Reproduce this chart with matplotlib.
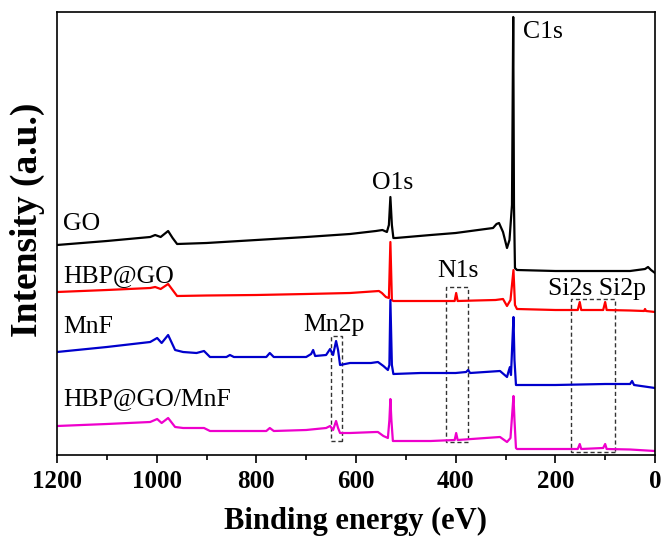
import matplotlib
matplotlib.use("Agg")
import matplotlib.pyplot as plt
from matplotlib.patches import Rectangle
from matplotlib.ticker import MultipleLocator, NullLocator

# ---- data: binding energy (eV) and intensity (a.u., offset already applied) ----
go_e = [1200, 1100, 1013, 1003, 992, 977, 968, 959, 900, 800, 700, 612, 560, 547, 538, 534,
        531, 528, 525, 520, 450, 400, 340, 325, 318, 313, 305, 297, 292, 287, 284.5, 283,
        281, 277, 200, 100, 50, 20, 14, 8, 0]
go_i = [210, 214, 218, 220, 218, 224, 217, 211, 212, 215, 218, 221, 224, 225, 223, 230,
        258, 230, 217, 217, 220, 222, 226, 227, 231, 232, 223, 207, 215, 250, 438, 250,
        187, 185, 184, 184, 184, 186, 188, 185, 182]

hbp_e = [1200, 1100, 1013, 1003, 992, 977, 968, 959, 900, 800, 700, 612, 554, 548, 540, 534,
         531, 528, 525, 450, 402, 399, 396, 360, 320, 305, 297, 290, 284, 281, 277, 200,
         155, 151, 148, 104, 100, 97, 50, 22, 20, 18, 0]
hbp_i = [163, 165, 167, 168, 166, 171, 165, 159, 159.5, 160, 161, 162, 164, 162, 158, 157,
         213, 155, 154, 154, 154, 162, 154, 154.5, 155, 156, 149, 155, 185, 150, 146, 145,
         145, 153, 145, 145, 153, 145, 144.5, 144, 146, 144, 143]

mnf_e = [1200, 1100, 1013, 999, 990, 977, 963, 947, 920, 905, 893, 860, 853, 845, 780, 773,
         765, 700, 690, 686, 682, 660, 652, 648, 646, 640, 636, 632, 612, 570, 556, 545,
         536, 533, 531, 528, 525, 470, 400, 379, 375, 371, 311, 297, 293, 291, 289, 286,
         284, 282, 279, 200, 100, 50, 46, 42, 0]
mnf_i = [103, 108, 113, 117, 112, 120, 105, 103, 102, 104, 98, 98, 100, 98, 98, 102,
         98, 98, 101, 105, 99, 100, 106, 102, 100, 114, 105, 90, 92, 92, 93, 89,
         85, 90, 155, 90, 81, 82, 82, 83, 85, 82, 84, 78, 85, 88, 80, 115,
         138, 95, 70, 70, 71, 71, 74, 70, 67]

mix_e = [1200, 1100, 1013, 999, 990, 977, 963, 947, 905, 893, 860, 780, 773, 765, 700, 660,
         652, 646, 640, 636, 632, 612, 560, 556, 545, 536, 533, 531, 529, 526, 450, 402,
         399, 396, 340, 311, 297, 290, 286, 284, 282, 279, 277, 155, 151, 148, 104, 100,
         97, 50, 0]
mix_i = [29, 31, 33, 36, 32, 37, 28, 27, 27, 24, 24, 24, 27, 24, 25, 27,
         29, 25, 34, 27, 22, 22, 23, 23, 19, 17, 35, 56, 35, 14, 14, 15,
         22, 15, 17, 18, 13, 17, 45, 59, 35, 7, 6, 6, 11, 6, 7, 11,
         6, 5.5, 4]

series = [("GO", go_e, go_i, "#000000"),
          ("HBP@GO", hbp_e, hbp_i, "#ff0000"),
          ("MnF", mnf_e, mnf_i, "#0000cc"),
          ("HBP@GO/MnF", mix_e, mix_i, "#ee00cc")]

# sample labels (x in eV, baseline intensity)
sample_labels = [("GO", 1188, 225), ("HBP@GO", 1188, 173),
                 ("MnF", 1188, 122), ("HBP@GO/MnF", 1188, 50)]
# peak labels
peak_labels = [("O1s", 526, 266, "center"), ("C1s", 265, 417, "left"),
               ("N1s", 396, 178, "center"), ("Si2s Si2p", 215, 160, "left"),
               ("Mn2p", 706, 124, "left")]
# dashed boxes: (E_high, E_low, I_bottom, I_top)
boxes = [(650, 628, 14, 119), (419, 375, 13, 168), (168.5, 80, 3, 156)]

plt.rcParams['font.family'] = ['Liberation Serif', 'DejaVu Serif']

fig = plt.figure(figsize=(6.62, 5.37), dpi=100)
ax = fig.add_axes([57/662, 82/537, 598/662, 443/537])

for name, e, i, c in series:
    ax.plot(e, i, color=c, lw=1.6, solid_joinstyle='round')

for txt, x, y in sample_labels:
    ax.text(x, y, txt, fontsize=18.5, ha='left', va='baseline')
for txt, x, y, ha in peak_labels:
    ax.text(x, y, txt, fontsize=18.5, ha=ha, va='baseline')

for e_hi, e_lo, b, t in boxes:
    ax.add_patch(Rectangle((e_lo, b), e_hi - e_lo, t - b, fill=False,
                           edgecolor='#333333', lw=1.0, linestyle=(0, (3, 2))))

ax.set_xlim(1200, 0)
ax.set_ylim(0, 443)
ax.xaxis.set_major_locator(MultipleLocator(200))
ax.xaxis.set_minor_locator(MultipleLocator(100))
ax.yaxis.set_major_locator(NullLocator())
ax.tick_params(axis='x', which='major', direction='out', length=6, width=1.2, pad=5,
               labelsize=18)
ax.tick_params(axis='x', which='minor', direction='out', length=3.5, width=1.2)
for lab in ax.get_xticklabels():
    lab.set_fontweight('bold')
for s in ax.spines.values():
    s.set_linewidth(1.2)

ax.set_xlabel("Binding energy (eV)", fontsize=22, fontweight='bold', labelpad=10)
ax.set_ylabel("Intensity (a.u.)", fontsize=27, fontweight='bold')
ax.yaxis.set_label_coords(-0.02, 0.53)

fig.savefig("out.png", dpi=100)
